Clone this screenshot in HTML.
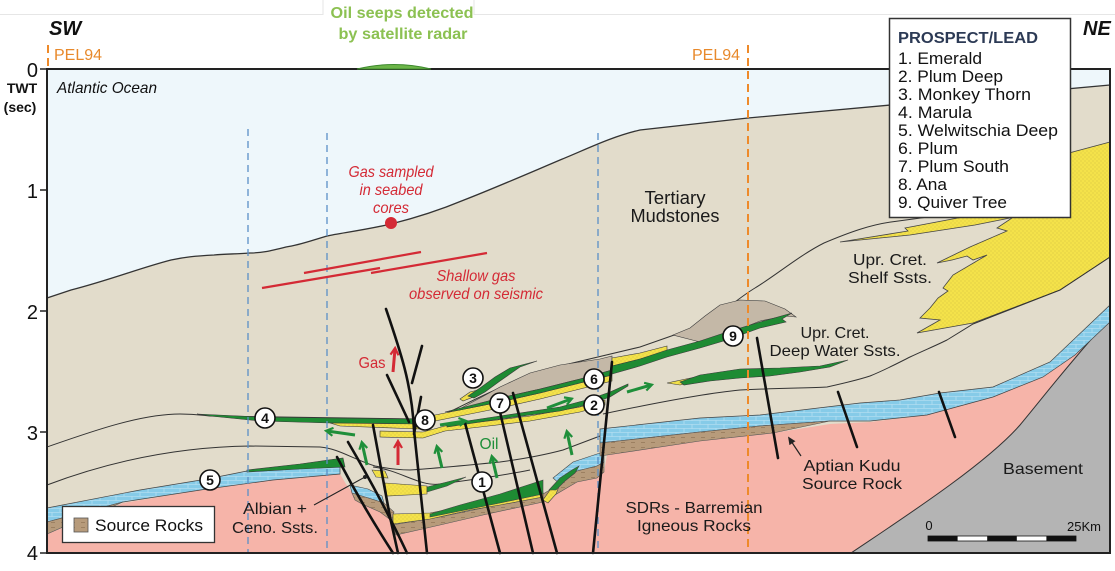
<!DOCTYPE html>
<html><head><meta charset="utf-8"><style>
html,body{margin:0;padding:0;background:#fff;}
svg{display:block;}
text{font-family:"Liberation Sans",Arial,sans-serif;}
</style></head><body>
<svg width="1115" height="571" viewBox="0 0 1115 571" xmlns="http://www.w3.org/2000/svg">
<defs>
<pattern id="brick" width="16" height="8" patternUnits="userSpaceOnUse">
<rect width="16" height="8" fill="#86cbe8"/>
<path d="M0,0.5H16M0,4.5H16M4,0.5V4.5M12,4.5V8" stroke="#c4e6f4" stroke-width="0.6"/>
</pattern>
<pattern id="dots" width="4" height="4" patternUnits="userSpaceOnUse">
<rect width="4" height="4" fill="#f4e24a"/>
<circle cx="1" cy="1" r="0.4" fill="#a89a3a"/><circle cx="3" cy="3" r="0.4" fill="#a89a3a"/>
</pattern>
<pattern id="src" width="10" height="5" patternUnits="userSpaceOnUse">
<rect width="10" height="5" fill="#b79b7b"/>
<path d="M1,2.5h4" stroke="#8a6e50" stroke-width="0.6"/>
</pattern>
<marker id="ag" viewBox="0 0 10 10" refX="7" refY="5" markerWidth="10" markerHeight="10" orient="auto" markerUnits="userSpaceOnUse">
<path d="M1,1 L8,5 L1,9" fill="none" stroke="#1f8f3a" stroke-width="2.2"/>
</marker>
<marker id="ar" viewBox="0 0 10 10" refX="7" refY="5" markerWidth="10" markerHeight="10" orient="auto" markerUnits="userSpaceOnUse">
<path d="M1,1 L8,5 L1,9" fill="none" stroke="#d42a35" stroke-width="2.2"/>
</marker>
<marker id="ak" viewBox="0 0 10 10" refX="7" refY="5" markerWidth="9" markerHeight="9" orient="auto" markerUnits="userSpaceOnUse">
<path d="M0,1 L9,5 L0,9 Z" fill="#222"/>
</marker>
</defs>

<rect width="1115" height="571" fill="#fff"/>
<path d="M0,14.5H323V0M474,0V14.5H1115" fill="none" stroke="#e6e6e6" stroke-width="1"/>

<rect x="47" y="69" width="1063" height="484" fill="#e2dccb"/>
<path d="M47,69 L1110,69 L1110,85 L748,118 L640,130 C610,137 585,150 560,160 C520,177 490,190 464,200 C440,210 415,218 391,224 C360,231 340,233 327,236 C310,241 300,245 286,247 C270,251 262,253 250,253 C235,254 225,254 214,255 C195,256 185,257 171,260 C140,268 110,280 71,290 L47,298 Z" fill="#eef7fb"/>
<path d="M1110,85 L748,118 L640,130 C610,137 585,150 560,160 C520,177 490,190 464,200 C440,210 415,218 391,224 C360,231 340,233 327,236 C310,241 300,245 286,247 C270,251 262,253 250,253 C235,254 225,254 214,255 C195,256 185,257 171,260 C140,268 110,280 71,290 L47,298" fill="none" stroke="#333" stroke-width="1.3"/>

<path d="M1110,142 L1069,153 L1040,180 L1012,218 L997,228 L1007,231 L970,247 L937,263 L952,260 L967,256 L973,260 L987,255 L953,275 L943,288 L948,291 L938,298 L930,308 L920,318 L940,320 L917,333 L973,323 L1060,290 L1110,257 Z" fill="url(#dots)" stroke="#444" stroke-width="0.8"/>
<path d="M1000,206 L963,217 L905,228 L908,231 L840,242 L910,235 L975,225 L1010,218 Z" fill="url(#dots)" stroke="#444" stroke-width="0.8"/>

<g fill="none" stroke="#333" stroke-width="1">
<path d="M432,420 C455,410 480,396 500,388 C520,378 540,370 560,366 L640,347 L697,327 C715,320 735,300 755,288 C775,276 800,255 824,243 C850,232 870,225 891,222 L965,212"/>
<path d="M603,414 C650,404 700,394 740,390 C780,388 810,388 827,387 C845,383 858,380 870,376 C885,370 898,363 910,357 C925,350 937,345 947,340 L973,324 L1060,290 L1110,257"/>
<path d="M47,447 C90,432 140,414 180,414 C195,414 200,415 210,416 L420,419"/>
<path d="M47,485 C100,465 170,447 250,446 L320,447 C340,449 350,458 375,466 C390,469 400,470 410,470 C440,468 470,465 500,462 C530,458 548,454 563,450 L600,436"/>
<path d="M373,467 C400,470 420,487 440,484 C470,480 500,476 530,470"/>
</g>

<path d="M47,534 L85,519 L123,503 L207,489 L273,480 L340,474 L346,484 L358,500 L382,510 L392,522 L396,535 L440,525 L483,515 L543,502 L560,492 L577,482 L597,478 L604,472 L607,455 L700,441 L773,433 L830,424 L870,422 L927,415 L993,397 L1043,377 L1075,355 L1110,322 L1110,553 L47,553 Z" fill="#f6b4a9"/>
<path d="M851,553 C900,520 985,465 1020,425 C1045,395 1065,368 1110,318 L1110,553 Z" fill="#b4b4b4" stroke="#333" stroke-width="1"/>

<path d="M47,508 L140,490 L207,479 L247,471 L300,467 L340,464 L340,474 L273,480 L207,489 L123,502 L85,512 L47,522 Z" fill="url(#brick)" stroke="#444" stroke-width="0.7"/>
<path d="M600,429 L700,418 L760,415 L860,403 L900,400 L940,393 L993,387 L1050,362 L1110,305 L1110,322 L1075,355 L1043,377 L993,397 L927,415 L870,421 L830,421 L760,426 L700,432 L600,443 Z" fill="url(#brick)" stroke="#444" stroke-width="0.7"/>
<path d="M350,485 L368,489 L382,496 L384,503 L365,497 L352,493 Z" fill="url(#brick)" stroke="#444" stroke-width="0.6"/>
<path d="M553,478 L573,462 L597,454 L604,452 L604,462 L597,466 L577,471 L560,484 Z" fill="url(#brick)" stroke="#444" stroke-width="0.6"/>

<path d="M47,522 L85,512 L123,502 L100,512 L70,524 L47,534 Z" fill="url(#src)" stroke="#555" stroke-width="0.6"/>
<path d="M600,443 L700,432 L760,426 L830,421 L773,433 L700,441 L607,455 L600,456 Z" fill="url(#src)" stroke="#555" stroke-width="0.6"/>
<path d="M352,493 L365,497 L384,503 L394,512 L392,521 L380,512 L362,504 L355,500 Z" fill="url(#src)" stroke="#555" stroke-width="0.6"/>
<path d="M392,525 L440,517 L483,508 L543,494 L560,484 L577,471 L597,466 L604,462 L604,472 L597,478 L577,482 L560,492 L543,502 L483,515 L440,525 L396,535 Z" fill="url(#src)" stroke="#555" stroke-width="0.6"/>

<g stroke="#444" stroke-width="0.6">
<path d="M393,514 L430,513 L470,505 L500,499 L543,492 L543,497 L500,505 L470,510 L430,519 L393,524 Z" fill="url(#dots)"/>
<path d="M430,514 L460,505 L500,494 L543,480 L543,494 L500,503 L460,511 L430,517 Z" fill="#1e8b33"/>
<path d="M385,483 L427,486 L427,494 L387,496 Z" fill="url(#dots)"/>
<path d="M427,487 L447,482 L466,477 L447,486 L427,492 Z" fill="#1e8b33"/>
<path d="M372,470 L385,471 L388,478 L376,477 Z" fill="url(#dots)"/>
<path d="M543,500 L550,490 L560,484 L556,494 L548,503 Z" fill="url(#dots)"/>
<path d="M549,490 L560,478 L572,470 L579,466 L575,473 L565,481 L556,490 Z" fill="#1e8b33"/>
</g>

<g stroke="#3a3a3a" stroke-width="0.6">
<path d="M450,414 L480,398 L500,387 L530,373 L560,365 L600,359 L612,356 L612,370 L580,379 L540,389 L500,398 L470,406 Z" fill="#c4b8a7"/>
<path d="M673,335 L690,328 L705,316 L720,305 L740,300 L765,301 L785,309 L796,317 L785,316 L760,321 L730,333 L700,342 Z" fill="#c4b8a7"/>
<path d="M425,417 L460,410 L500,402 L540,393 L580,383 L612,375 L612,381 L580,389 L540,399 L500,408 L460,416 L425,423 Z" fill="url(#dots)"/>
<path d="M445,412 L500,398 L540,389 L580,379 L612,370 L612,375 L580,383 L540,393 L500,402 L460,410 Z" fill="#1e8b33"/>
<path d="M380,431 L423,432 L445,426 L480,422 L530,416 L580,407 L605,400 L605,405 L580,412 L530,421 L480,427 L445,431 L423,438 L380,437 Z" fill="url(#dots)"/>
<path d="M447,424 L500,416 L560,407 L590,399 L610,392 L628,384 L628,386 L610,397 L590,404 L560,411 L500,419 L447,427 Z" fill="#1e8b33"/>
<path d="M612,358 L640,353 L667,346 L667,351 L640,359 L612,366 Z" fill="url(#dots)"/>
<path d="M612,366 L640,359 L667,350 L700,341 L727,332 L760,322 L792,313 L782,319 L786,322 L760,328 L727,340 L700,348 L667,357 L640,366 L612,374 Z" fill="#1e8b33"/>
<path d="M667,383 L700,376 L708,379 L680,385 Z" fill="url(#dots)"/>
<path d="M680,382 L700,375 L740,369 L780,368 L820,366 L848,360 L830,367 L800,372 L770,376 L740,378 L710,381 L684,385 Z" fill="#1e8b33"/>
<path d="M460,399 L470,392 L482,389 L476,396 L463,401 Z" fill="url(#dots)"/>
<path d="M468,396 L480,388 L495,377 L510,368 L537,361 L520,367 L500,381 L485,392 L474,398 Z" fill="#1e8b33"/>
<path d="M197,414 L260,417 L330,418 L420,419 L420,424 L330,423 L260,421 L210,416 Z" fill="#1e8b33"/>
<path d="M330,423 L420,424 L420,429 L340,426 Z" fill="url(#dots)"/>
<path d="M247,470 L300,464 L343,458 L345,467 L300,469 L247,472 Z" fill="#1e8b33"/>
</g>

<g fill="none" stroke="#5b8fc7" stroke-width="1.3" stroke-dasharray="7,5">
<path d="M248,129V553M327,133V553M598,133V553"/>
</g>
<g fill="none" stroke="#ee8a2a" stroke-width="2" stroke-dasharray="8,5">
<path d="M748,45V553M48,45V68"/>
</g>

<g fill="none" stroke="#111" stroke-width="2.6" stroke-linecap="round">
<path d="M337,457 Q362,505 393,553"/>
<path d="M348,442 Q382,500 407,553"/>
<path d="M373,425 L390,517 L398,553"/>
<path d="M386,309 C400,350 412,385 414,430 L427,553"/>
<path d="M422,346 L412,383"/>
<path d="M387,375 L409,422"/>
<path d="M421,397 L414,434"/>
<path d="M465,423 L500,553"/>
<path d="M500,412 L533,553"/>
<path d="M513,393 L557,553"/>
<path d="M612,362 L593,553"/>
<path d="M757,338 L778,458"/>
<path d="M838,392 L857,447"/>
<path d="M939,392 L955,437"/>
</g>

<rect x="47" y="69" width="1063" height="484" fill="none" stroke="#222" stroke-width="2"/>
<path d="M40,69H47M40,190H47M40,311H47M40,432H47M40,553H47" stroke="#222" stroke-width="1.5"/>
<g font-size="20" fill="#111" text-anchor="end">
<text x="38" y="77">0</text>
<text x="38" y="198">1</text>
<text x="38" y="319">2</text>
<text x="38" y="440">3</text>
<text x="38" y="560">4</text>
</g>
<text x="22" y="93" font-size="14" font-weight="bold" text-anchor="middle" fill="#111">TWT</text>
<text x="20" y="112" font-size="14" font-weight="bold" text-anchor="middle" fill="#111">(sec)</text>
<text x="49" y="35" font-size="20" font-weight="bold" font-style="italic" fill="#111">SW</text>
<text x="1083" y="35" font-size="20" font-weight="bold" font-style="italic" fill="#111">NE</text>
<text x="54" y="60" font-size="16" fill="#e8892b">PEL94</text>
<text x="692" y="60" font-size="16" fill="#e8892b">PEL94</text>

<path d="M357,69 Q394,60 431,69 Z" fill="#6cb548" stroke="#3e8a2e" stroke-width="1"/>
<text x="402" y="18" font-size="16" font-weight="bold" fill="#8cc152" text-anchor="middle" textLength="143" lengthAdjust="spacingAndGlyphs">Oil seeps detected</text>
<text x="403" y="39" font-size="16" font-weight="bold" fill="#8cc152" text-anchor="middle" textLength="129" lengthAdjust="spacingAndGlyphs">by satellite radar</text>

<text x="57" y="93" font-size="16" font-style="italic" fill="#111" textLength="100" lengthAdjust="spacingAndGlyphs">Atlantic Ocean</text>

<g fill="#d42a35" font-style="italic" font-size="16" text-anchor="middle">
<text x="391" y="177" textLength="85" lengthAdjust="spacingAndGlyphs">Gas sampled</text>
<text x="391" y="195" textLength="63" lengthAdjust="spacingAndGlyphs">in seabed</text>
<text x="391" y="213" textLength="36" lengthAdjust="spacingAndGlyphs">cores</text>
<text x="476" y="281" textLength="79" lengthAdjust="spacingAndGlyphs">Shallow gas</text>
<text x="476" y="299" textLength="134" lengthAdjust="spacingAndGlyphs">observed on seismic</text>
</g>
<circle cx="391" cy="223" r="6" fill="#d42a35"/>
<g stroke="#d42a35" stroke-width="2.2" fill="none">
<path d="M262,288 L380,268"/>
<path d="M304,273 L421,252"/>
<path d="M371,273 L487,253"/>
</g>

<text x="675" y="204" font-size="18" fill="#1a1a1a" text-anchor="middle" textLength="61" lengthAdjust="spacingAndGlyphs">Tertiary</text>
<text x="675" y="222" font-size="18" fill="#1a1a1a" text-anchor="middle" textLength="89" lengthAdjust="spacingAndGlyphs">Mudstones</text>

<g font-size="16" fill="#1a1a1a" text-anchor="middle">
<text x="890" y="265" textLength="74" lengthAdjust="spacingAndGlyphs">Upr. Cret.</text>
<text x="890" y="283" textLength="84" lengthAdjust="spacingAndGlyphs">Shelf Ssts.</text>
<text x="835" y="338" textLength="69" lengthAdjust="spacingAndGlyphs">Upr. Cret.</text>
<text x="835" y="356" textLength="131" lengthAdjust="spacingAndGlyphs">Deep Water Ssts.</text>
<text x="852" y="471" textLength="97" lengthAdjust="spacingAndGlyphs">Aptian Kudu</text>
<text x="852" y="489" textLength="100" lengthAdjust="spacingAndGlyphs">Source Rock</text>
<text x="694" y="513" textLength="137" lengthAdjust="spacingAndGlyphs">SDRs - Barremian</text>
<text x="694" y="531" textLength="114" lengthAdjust="spacingAndGlyphs">Igneous Rocks</text>
<text x="1043" y="474" textLength="80" lengthAdjust="spacingAndGlyphs">Basement</text>
<text x="275" y="514" textLength="64" lengthAdjust="spacingAndGlyphs">Albian +</text>
<text x="275" y="533" textLength="86" lengthAdjust="spacingAndGlyphs">Ceno. Ssts.</text>
</g>
<path d="M314,505 L365,477" stroke="#222" stroke-width="1"/>
<circle cx="365" cy="477" r="2" fill="#222"/>
<path d="M801,456 L789,438" stroke="#222" stroke-width="1.2" marker-end="url(#ak)"/>

<g stroke="#1f8f3a" stroke-width="3" fill="none" marker-end="url(#ag)">
<path d="M355,435 L327,431"/>
<path d="M367,465 L362,443"/>
<path d="M442,468 L437,447"/>
<path d="M497,478 L492,457"/>
<path d="M572,455 L567,432"/>
<path d="M440,425 L465,421"/>
<path d="M547,408 L571,399"/>
<path d="M627,392 L651,385"/>
</g>
<g stroke="#d42a35" stroke-width="3" fill="none" marker-end="url(#ar)">
<path d="M393,372 L395,349"/>
<path d="M398,465 L398,442"/>
</g>
<text x="372" y="368" font-size="16" fill="#d42a35" text-anchor="middle" textLength="27" lengthAdjust="spacingAndGlyphs">Gas</text>
<text x="489" y="449" font-size="16" fill="#1f8f3a" text-anchor="middle" textLength="19" lengthAdjust="spacingAndGlyphs">Oil</text>

<g font-size="14" font-weight="bold" text-anchor="middle" fill="#111">
<g stroke="#111" stroke-width="1.6" fill="#fff">
<circle cx="482" cy="482" r="10"/>
<circle cx="594" cy="405" r="10"/>
<circle cx="473" cy="378" r="10"/>
<circle cx="265" cy="418" r="10"/>
<circle cx="210" cy="480" r="10"/>
<circle cx="594" cy="379" r="10"/>
<circle cx="500" cy="403" r="10"/>
<circle cx="425" cy="420" r="10"/>
<circle cx="733" cy="336" r="10"/>
</g>
<text x="482" y="487">1</text>
<text x="594" y="410">2</text>
<text x="473" y="383">3</text>
<text x="265" y="423">4</text>
<text x="210" y="485">5</text>
<text x="594" y="384">6</text>
<text x="500" y="408">7</text>
<text x="425" y="425">8</text>
<text x="733" y="341">9</text>
</g>

<rect x="889.5" y="18.5" width="181" height="199" fill="#fff" stroke="#333" stroke-width="1.5"/>
<text x="898" y="43" font-size="16" font-weight="bold" fill="#2c3a55" textLength="140" lengthAdjust="spacingAndGlyphs">PROSPECT/LEAD</text>
<g font-size="17" fill="#111">
<text x="898" y="64" textLength="84" lengthAdjust="spacingAndGlyphs">1. Emerald</text>
<text x="898" y="82" textLength="105" lengthAdjust="spacingAndGlyphs">2. Plum Deep</text>
<text x="898" y="100" textLength="133" lengthAdjust="spacingAndGlyphs">3. Monkey Thorn</text>
<text x="898" y="118" textLength="74" lengthAdjust="spacingAndGlyphs">4. Marula</text>
<text x="898" y="136" textLength="160" lengthAdjust="spacingAndGlyphs">5. Welwitschia Deep</text>
<text x="898" y="154" textLength="60" lengthAdjust="spacingAndGlyphs">6. Plum</text>
<text x="898" y="172" textLength="111" lengthAdjust="spacingAndGlyphs">7. Plum South</text>
<text x="898" y="190" textLength="49" lengthAdjust="spacingAndGlyphs">8. Ana</text>
<text x="898" y="208" textLength="109" lengthAdjust="spacingAndGlyphs">9. Quiver Tree</text>
</g>

<rect x="62.5" y="506.5" width="152" height="36" fill="#fff" stroke="#333" stroke-width="1.3"/>
<rect x="74" y="518" width="14" height="14" fill="url(#src)" stroke="#555" stroke-width="0.8"/>
<text x="95" y="531" font-size="17" fill="#111" textLength="108" lengthAdjust="spacingAndGlyphs">Source Rocks</text>

<text x="929" y="530" font-size="13" fill="#111" text-anchor="middle">0</text>
<text x="1101" y="531" font-size="13" fill="#111" text-anchor="end">25Km</text>
<rect x="928" y="536" width="148" height="5" fill="#fff" stroke="#111" stroke-width="0.8"/>
<rect x="928" y="536" width="29.6" height="5" fill="#111"/>
<rect x="987.2" y="536" width="29.6" height="5" fill="#111"/>
<rect x="1046.4" y="536" width="29.6" height="5" fill="#111"/>
</svg>
</body></html>
